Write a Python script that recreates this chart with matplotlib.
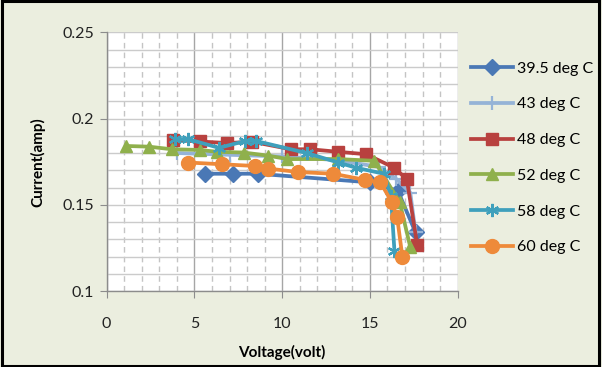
import matplotlib
matplotlib.use("Agg")
import matplotlib.pyplot as plt
from matplotlib.ticker import MultipleLocator, FixedLocator

plt.rcParams['font.family'] = ['Lato', 'DejaVu Sans']

labels = ["39.5 deg C", "43 deg C", "48 deg C", "52 deg C", "58 deg C", "60 deg C"]

v_395 = [5.6, 7.2, 8.6, 15.0, 16.6, 17.6]
i_395 = [0.168, 0.168, 0.168, 0.163, 0.158, 0.134]

v_43 = [4.0, 7.0, 10.0, 13.0, 15.5, 16.5, 17.3, 17.6]
i_43 = [0.180, 0.179, 0.178, 0.176, 0.172, 0.165, 0.157, 0.134]

v_48 = [3.8, 5.3, 6.85, 8.3, 10.5, 11.6, 13.2, 14.8, 16.35, 17.1, 17.7]
i_48 = [0.1875, 0.1867, 0.1858, 0.1865, 0.1822, 0.1822, 0.1807, 0.1793, 0.1716, 0.165, 0.1265]

v_52 = [1.1, 2.4, 3.7, 5.3, 6.3, 7.8, 9.2, 10.3, 13.2, 15.25, 16.7, 17.3]
i_52 = [0.1841, 0.1837, 0.1822, 0.1818, 0.1807, 0.1803, 0.1785, 0.1765, 0.1765, 0.1755, 0.1515, 0.1255]

v_58 = [3.9, 4.65, 6.4, 7.9, 8.5, 11.4, 13.2, 14.2, 15.8, 16.2, 16.4]
i_58 = [0.188, 0.188, 0.183, 0.187, 0.187, 0.180, 0.1745, 0.1715, 0.168, 0.155, 0.123]

v_60 = [4.65, 6.55, 8.45, 9.2, 10.9, 12.9, 14.7, 15.6, 16.25, 16.55, 16.85]
i_60 = [0.1745, 0.1735, 0.1725, 0.171, 0.169, 0.168, 0.1645, 0.163, 0.1515, 0.143, 0.120]

x_ticks = [0, 5, 10, 15, 20]
y_ticks = [0.1, 0.15, 0.2, 0.25]
y_tick_labels = ["0.1", "0.15", "0.2", "0.25"]

series = [
    (v_395, i_395, "#4A78B5", "D", 8.5),
    (v_43, i_43, "#95B3D7", "+", 9.5),
    (v_48, i_48, "#B8413F", "s", 9),
    (v_52, i_52, "#8FB04C", "^", 9),
    (v_58, i_58, "#3FA0BC", (6, 2, 0), 9.5),
    (v_60, i_60, "#EE8A3A", "o", 10),
]

bg = "#EBEEDF"
fig = plt.figure(figsize=(6.02, 3.67), dpi=100, facecolor=bg)
ax = fig.add_axes([0.1772, 0.207, 0.583, 0.705])
ax.set_facecolor("white")

ax.set_xlim(0, 20)
ax.set_ylim(0.1, 0.25)
ax.xaxis.set_major_locator(FixedLocator(x_ticks))
ax.yaxis.set_major_locator(FixedLocator(y_ticks))
ax.set_yticklabels(y_tick_labels)
ax.xaxis.set_minor_locator(MultipleLocator(1))
ax.yaxis.set_minor_locator(MultipleLocator(0.01))

ax.grid(which="major", axis="x", color="#A6A6A6", lw=1.0, ls="-")
ax.grid(which="minor", axis="x", color="#C4C4C4", lw=1.0, ls=(0, (4, 3)))
ax.grid(which="both", axis="y", color="#CBCBCB", lw=1.0, ls="-")
ax.set_axisbelow(True)

for s in ["top", "right"]:
    ax.spines[s].set_visible(False)
for s in ["left", "bottom"]:
    ax.spines[s].set_color("#8C8C8C")
    ax.spines[s].set_linewidth(1.0)

ax.tick_params(which="major", axis="both", direction="out", length=5, color="#8C8C8C",
               labelsize=11.5, labelcolor="#222222")
ax.tick_params(axis="x", pad=14)
ax.tick_params(axis="y", pad=4)
ax.tick_params(which="minor", length=0)

handles = []
for (xv, yv, c, m, ms), lab in zip(series, labels):
    kw = dict(color=c, lw=2.7, marker=m, markersize=ms, markerfacecolor=c,
              markeredgecolor=c, label=lab, solid_joinstyle="round")
    if m == "+" or m == (6, 2, 0):
        kw["markeredgewidth"] = 1.6
    h, = ax.plot(xv, yv, **kw)
    handles.append(h)

ax.set_xlabel("Voltage(volt)", fontsize=11, fontweight="bold", labelpad=10)
ax.set_ylabel("Current(amp)", fontsize=11, fontweight="bold", labelpad=12)

fig.legend(handles=handles, loc="upper left", bbox_to_anchor=(0.772, 0.85),
           frameon=False, fontsize=11.5, handlelength=2.6, labelspacing=1.35,
           handletextpad=0.3, borderaxespad=0)

fig.patches.append(plt.Rectangle((0.003, 0.004), 0.992, 0.992, transform=fig.transFigure,
                                 fill=False, edgecolor="black", lw=2.2))

fig.savefig("out.png", dpi=100, facecolor=bg)
